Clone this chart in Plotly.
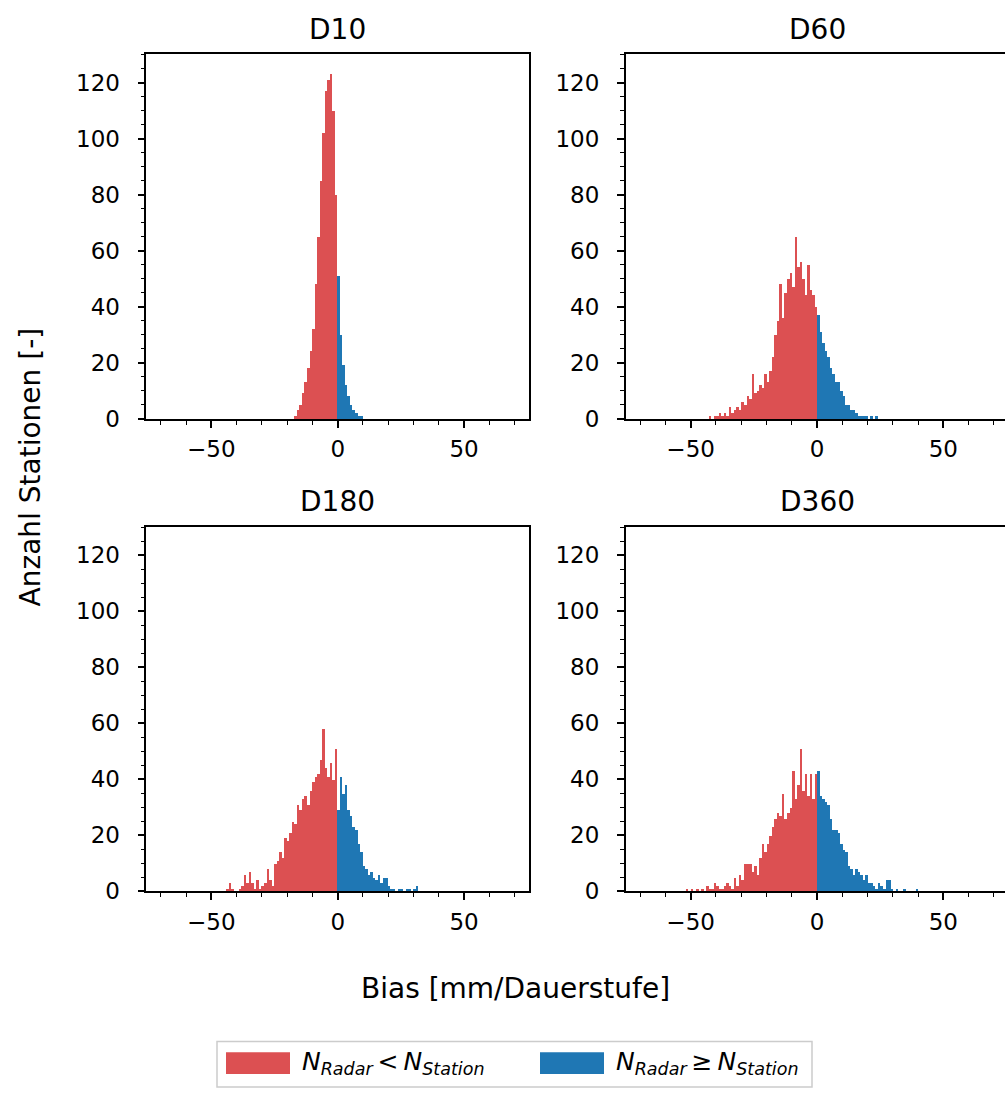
import numpy as np
import plotly.graph_objects as go

W, H = 1005, 1095

titles = ["D10", "D60", "D180", "D360"]

# first left bin edge of each red series (bin width 1 mm); blue series start at 0
red_start = {"D10": -17, "D60": -44, "D180": -45, "D360": -52}

red_counts = {
    "D10": [1, 3, 5, 9, 13, 18, 24, 32, 48, 65, 85, 102, 117, 121, 123, 110, 80],
    "D60": [0, 1, 0, 1, 1, 2, 1, 2, 1, 4, 2, 3, 4, 3, 6, 5, 8, 7, 16, 9, 10, 12,
            11, 16, 13, 17, 22, 30, 35, 48, 36, 45, 50, 52, 47, 65, 54, 56, 50,
            44, 55, 46, 44, 40],
    "D180": [0, 1, 3, 1, 0, 0, 1, 2, 6, 3, 7, 3, 1, 4, 1, 2, 3, 8, 4, 2, 10, 11,
             14, 12, 19, 18, 21, 25, 24, 31, 29, 33, 34, 31, 36, 39, 41, 42, 47,
             58, 44, 41, 46, 40, 51],
    "D360": [1, 0, 1, 0, 1, 0, 1, 0, 2, 1, 1, 3, 2, 1, 1, 2, 3, 2, 1, 5, 2, 6, 4,
             10, 10, 10, 7, 9, 6, 12, 17, 14, 17, 20, 23, 26, 28, 27, 35, 26, 28,
             30, 43, 33, 38, 51, 36, 42, 34, 42, 33, 42],
}

blue_counts = {
    "D10": [51, 30, 19, 12, 8, 5, 3, 2, 1, 1],
    "D60": [37, 31, 27, 24, 22, 18, 16, 13, 13, 10, 8, 5, 5, 3, 3, 2, 1, 1, 1, 1,
            0, 1, 0, 1],
    "D180": [29, 41, 35, 38, 29, 27, 23, 22, 17, 14, 9, 8, 6, 7, 5, 4, 6, 3, 5, 5,
             2, 1, 1, 0, 1, 1, 0, 1, 1, 0, 1, 2],
    "D360": [43, 34, 33, 32, 31, 26, 22, 22, 21, 17, 15, 14, 9, 8, 6, 8, 7, 6, 4,
             6, 3, 3, 2, 1, 3, 2, 1, 4, 4, 1, 0, 1, 0, 0, 1, 0, 0, 0, 0, 1],
}

x_ticks = [-50, 0, 50]
x_ticktext = ["\u221250", "0", "50"]
y_ticks = [0, 20, 40, 60, 80, 100, 120]

RED = "#dc5052"
BLUE = "#1f77b4"
FONT = "DejaVu Sans"


def px(x):
    return x / W


def py(y):
    return 1 - y / H


fig = go.Figure()

# panel geometry in pixels
cols = [(146.4, 529.0, [-75.7, 75.7]), (625.7, 1005.0, [-75.7, 74.4])]
col_centers = [(146.4 + 529.0) / 2, (625.7 + 1008.3) / 2]
rows = [(55.0, 424.0), (533.0, 902.0)]

panels = [(r, c) for r in range(2) for c in range(2)]

for i, (name, (r, c)) in enumerate(zip(titles, panels)):
    k = i + 1
    xa = "x" if k == 1 else f"x{k}"
    ya = "y" if k == 1 else f"y{k}"
    start = red_start[name]
    rc = red_counts[name]
    bc = blue_counts[name]
    rx = np.arange(start, start + len(rc)) + 0.5
    bx = np.arange(0, len(bc)) + 0.5
    fig.add_trace(go.Bar(x=rx, y=rc, width=1.0, marker=dict(color=RED, line=dict(width=0)),
                         xaxis=xa, yaxis=ya, showlegend=False, hoverinfo="x+y"))
    fig.add_trace(go.Bar(x=bx, y=bc, width=1.0, marker=dict(color=BLUE, line=dict(width=0)),
                         xaxis=xa, yaxis=ya, showlegend=False, hoverinfo="x+y"))

    x0, x1, xr = cols[c]
    y0, y1 = rows[r]
    axis_common = dict(
        showline=True, linecolor="black", linewidth=1.6,
        ticks="outside", ticklen=7, tickwidth=1.6, tickcolor="black",
        showgrid=False, zeroline=False,
        tickfont=dict(family=FONT, size=23, color="black"),
    )
    xkey = "xaxis" if k == 1 else f"xaxis{k}"
    ykey = "yaxis" if k == 1 else f"yaxis{k}"
    fig.layout[xkey] = dict(
        domain=[px(x0), min(px(x1), 1.0)], range=xr, anchor=ya,
        tickvals=x_ticks, ticktext=x_ticktext, mirror=True,
        minor=dict(ticks="outside", ticklen=4, tickwidth=1.2, tickcolor="black", dtick=10, tick0=0),
        ticklabelstandoff=2,
        **axis_common,
    )
    fig.layout[ykey] = dict(
        domain=[py(y1), py(y0)], range=[0, 130.2], anchor=xa,
        tickvals=y_ticks, mirror=(c == 0),
        minor=dict(ticks="outside", ticklen=4, tickwidth=1.2, tickcolor="black", dtick=5, tick0=0),
        ticklabelstandoff=13,
        **axis_common,
    )
    fig.add_annotation(text=name, xref="paper", yref="paper",
                       x=px(col_centers[c]), y=py(y0 - 25), showarrow=False,
                       xanchor="center", yanchor="middle",
                       font=dict(family=FONT, size=28, color="black"))

# axis titles
fig.add_annotation(text="Bias [mm/Dauerstufe]", xref="paper", yref="paper",
                   x=px(515), y=py(1000), showarrow=False, xanchor="center", yanchor="middle",
                   font=dict(family=FONT, size=28, color="black"))
fig.add_annotation(text="Anzahl Stationen [-]", xref="paper", yref="paper",
                   x=px(30), y=py(473), showarrow=False, xanchor="center", yanchor="middle",
                   textangle=-90, font=dict(family=FONT, size=28, color="black"))

# legend (drawn manually to mimic wide patches)
fig.add_shape(type="rect", xref="paper", yref="paper",
              x0=px(217), x1=px(812), y0=py(1100), y1=py(1054),
              line=dict(color="#cccccc", width=1.5), fillcolor="rgba(255,255,255,0.8)")
legend_items = [
    (RED, 226, 290, "<i>N</i><sub><i>Radar</i></sub>\u2009&lt;\u2009<i>N</i><sub><i>Station</i></sub>", 300),
    (BLUE, 540, 604, "<i>N</i><sub><i>Radar</i></sub>\u2009\u2265\u2009<i>N</i><sub><i>Station</i></sub>", 614),
]
for col, a, b, label, tx in legend_items:
    fig.add_shape(type="rect", xref="paper", yref="paper",
                  x0=px(a), x1=px(b), y0=py(1087), y1=py(1065),
                  line=dict(width=0), fillcolor=col)
    fig.add_annotation(text=label, xref="paper", yref="paper", x=px(tx), y=py(1076),
                       showarrow=False, xanchor="left", yanchor="middle",
                       font=dict(family=FONT, size=25, color="black"))

fig.update_layout(
    width=W, height=H, margin=dict(l=0, r=0, t=0, b=0),
    paper_bgcolor="white", plot_bgcolor="white",
    barmode="overlay", bargap=0, showlegend=False,
    font=dict(family=FONT, color="black"),
)

fig.write_html("out.html")
